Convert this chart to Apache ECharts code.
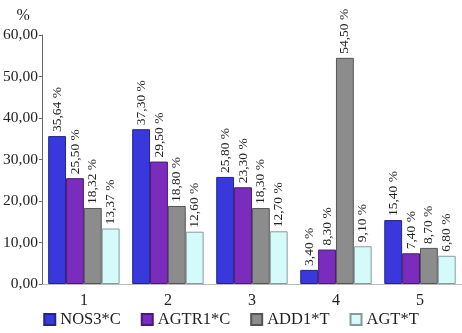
<!DOCTYPE html>
<html>
<head>
<meta charset="utf-8">
<script src="https://cdn.jsdelivr.net/npm/echarts@6/dist/echarts.min.js"></script>
<style>
	html, body { margin: 0; padding: 0; background: #ffffff; }
	#container { width: 462px; height: 333px; }
</style>
</head>
<body>
<div id="container"></div>
<script>
var categories = ['1', '2', '3', '4', '5'];
var seriesNames = ['NOS3*C', 'AGTR1*C', 'ADD1*T', 'AGT*T'];
var nos3 = [35.64, 37.30, 25.80, 3.40, 15.40];
var agtr1 = [25.50, 29.50, 23.30, 8.30, 7.40];
var add1 = [18.32, 18.80, 18.30, 54.50, 8.70];
var agt = [13.37, 12.60, 12.70, 9.10, 6.80];
var colores = ['#3838dc', '#7a2cbc', '#8c8c8c', '#d4fafa'];
var bordes = ['#23238a', '#4a1a70', '#555555', '#8a9a9a'];

var dom = document.getElementById("container");
var myChart = echarts.init(dom);
var fuente = 'Liberation Serif';

function formato(v) {
	return v.toFixed(2).replace('.', ',');
}

var seriesData = [nos3, agtr1, add1, agt].map(function (valores, index) {
	return {
		name: seriesNames[index],
		type: 'bar',
		barGap: '0%',
		barCategoryGap: '15%',
		data: valores,
		itemStyle: {
			color: colores[index],
			borderColor: bordes[index],
			borderWidth: 1
		},
		label: {
			show: true,
			position: 'top',
			rotate: 90,
			align: 'left',
			verticalAlign: 'middle',
			distance: 4,
			fontFamily: fuente,
			fontSize: 13.5,
			color: '#222',
			formatter: function (p) { return formato(p.value) + ' %'; }
		}
	};
});

var option = {
	animation: false,
	backgroundColor: '#ffffff',
	textStyle: { fontFamily: fuente },
	legend: {
		data: seriesNames,
		bottom: 0,
		left: 'center',
		itemWidth: 11,
		itemHeight: 11,
		itemGap: 20,
		icon: 'rect',
		textStyle: { fontFamily: fuente, fontSize: 16.5, color: '#222' }
	},
	grid: {
		left: 41,
		right: 0,
		top: 35,
		bottom: 49
	},
	xAxis: {
		type: 'category',
		data: categories,
		axisLine: { show: true, lineStyle: { color: '#bbbbbb' } },
		axisTick: { show: false },
		axisLabel: { fontFamily: fuente, fontSize: 16, color: '#222', margin: 9 }
	},
	yAxis: {
		type: 'value',
		min: 0,
		max: 60,
		interval: 10,
		name: '%',
		nameLocation: 'end',
		nameGap: 11,
		nameTextStyle: { fontFamily: fuente, fontSize: 16, color: '#222', align: 'right', padding: [0, 12, 0, 0] },
		axisLine: { show: true, lineStyle: { color: '#666666' } },
		axisTick: { show: true, length: 3, lineStyle: { color: '#666666' } },
		splitLine: { show: false },
		axisLabel: {
			fontFamily: fuente,
			fontSize: 15.5,
			color: '#222',
			margin: 4,
			formatter: function (v) { return formato(v); }
		}
	},
	series: seriesData
};

myChart.setOption(option, true);
</script>
</body>
</html>
